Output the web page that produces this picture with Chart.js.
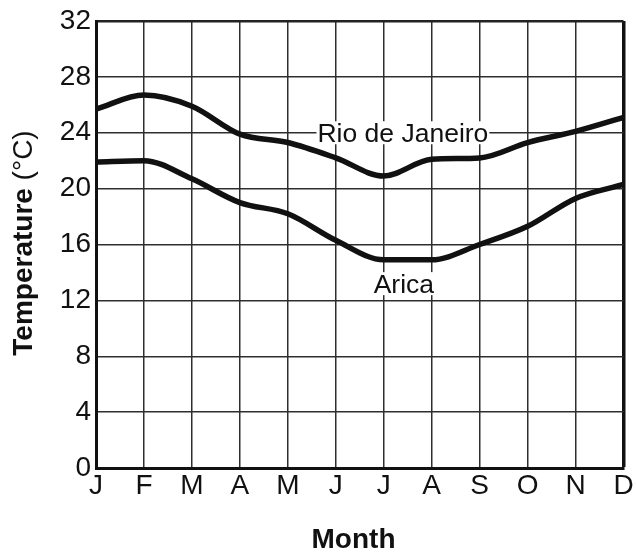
<!DOCTYPE html>
<html>
<head>
<meta charset="utf-8">
<script src="https://cdn.jsdelivr.net/npm/chart.js@4/dist/chart.umd.min.js"></script>
<style>
  html, body { margin: 0; padding: 0; background: #ffffff; }
  #wrap { width: 636px; height: 553px; }
</style>
</head>
<body>
<div id="wrap"><canvas id="c" width="636" height="553"></canvas></div>
<script>
// ---- data ----
const months = ["J", "F", "M", "A", "M", "J", "J", "A", "S", "O", "N", "D"];
const rioDeJaneiro = [25.7, 26.7, 25.9, 23.9, 23.3, 22.2, 20.9, 22.1, 22.2, 23.3, 24.1, 25.1];
const arica = [21.9, 22.0, 20.7, 19.0, 18.2, 16.3, 14.9, 14.9, 16.0, 17.3, 19.3, 20.3];
const yTicks = [0, 4, 8, 12, 16, 20, 24, 28, 32];
const seriesNames = ["Rio de Janeiro", "Arica"];
const xTitle = "Month";
const yTitleBold = "Temperature ";
const yTitleRegular = "(°C)";

const FONT = "'Liberation Sans', Arial, Helvetica, sans-serif";
const INK = "#111111";

// series labels placed in data units (category index, value)
const seriesLabelPos = [
  { text: seriesNames[0], x: 6.4, y: 24.0 },
  { text: seriesNames[1], x: 6.42, y: 13.2 }
];

const labelsPlugin = {
  id: 'seriesLabels',
  afterDatasetsDraw(chart) {
    const ctx = chart.ctx;
    const xs = chart.scales.x, ys = chart.scales.y;
    ctx.save();
    ctx.font = "26.5px " + FONT;
    ctx.textAlign = 'center';
    ctx.textBaseline = 'alphabetic';
    seriesLabelPos.forEach(l => {
      const px = xs.getPixelForValue(l.x);
      const py = ys.getPixelForValue(l.y);
      const w = ctx.measureText(l.text).width;
      const cap = 19;
      const base = py + cap / 2;
      ctx.fillStyle = '#ffffff';
      ctx.fillRect(px - w / 2 - 1, base - cap - 2, w + 2, cap + 4);
      ctx.fillStyle = INK;
      ctx.fillText(l.text, px, base);
    });
    ctx.restore();
  }
};

const titlesPlugin = {
  id: 'axisTitles',
  afterDraw(chart) {
    const ctx = chart.ctx;
    ctx.save();
    ctx.fillStyle = INK;
    // x title
    ctx.font = "bold 28px " + FONT;
    ctx.textAlign = 'center';
    ctx.textBaseline = 'alphabetic';
    ctx.fillText(xTitle, 353.5, 548);
    // y title (mixed weight)
    ctx.translate(32, 243);
    ctx.rotate(-Math.PI / 2);
    ctx.font = "bold 28px " + FONT;
    const w1 = ctx.measureText(yTitleBold).width;
    ctx.font = "28px " + FONT;
    const w2 = ctx.measureText(yTitleRegular).width;
    const start = -(w1 + w2) / 2;
    ctx.textAlign = 'left';
    ctx.font = "bold 28px " + FONT;
    ctx.fillText(yTitleBold, start, 0);
    ctx.font = "28px " + FONT;
    ctx.fillText(yTitleRegular, start + w1, 0);
    ctx.restore();
  }
};

new Chart(document.getElementById('c'), {
  type: 'line',
  data: {
    labels: months,
    datasets: [
      { label: seriesNames[0], data: rioDeJaneiro, borderColor: INK, borderWidth: 5.5,
        pointRadius: 0, cubicInterpolationMode: 'monotone', fill: false },
      { label: seriesNames[1], data: arica, borderColor: INK, borderWidth: 5.5,
        pointRadius: 0, cubicInterpolationMode: 'monotone', fill: false }
    ]
  },
  options: {
    responsive: false,
    animation: false,
    events: [],
    layout: { padding: { top: 21, right: 12.5, left: 0, bottom: 0 } },
    plugins: { legend: { display: false }, tooltip: { enabled: false }, title: { display: false } },
    scales: {
      x: {
        type: 'category',
        offset: false,
        grid: {
          offset: false,
          drawTicks: false,
          color: (c) => (c.index === months.length - 1 ? INK : '#2e2e2e'),
          lineWidth: (c) => (c.index === months.length - 1 ? 3.5 : 1.5)
        },
        border: { display: true, color: INK, width: 3 },
        ticks: { color: INK, font: { family: FONT, size: 28, lineHeight: 1.2 }, padding: 1,
                 maxRotation: 0, autoSkip: false },
        afterFit: (s) => { s.height = 85; s.paddingLeft = 0; s.paddingRight = 0; }
      },
      y: {
        min: 0, max: 32,
        afterBuildTicks: (s) => { s.ticks = yTicks.map(v => ({ value: v })); },
        grid: {
          drawTicks: false,
          color: (c) => (c.tick && c.tick.value === 32 ? '#222222' : '#2e2e2e'),
          lineWidth: (c) => (c.tick && c.tick.value === 32 ? 2.5 : 1.5)
        },
        border: { display: true, color: INK, width: 3 },
        ticks: { color: INK, font: { family: FONT, size: 28, lineHeight: 1.2 }, padding: 5 },
        afterFit: (s) => { s.width = 96; s.paddingTop = 0; s.paddingBottom = 0; }
      }
    }
  },
  plugins: [labelsPlugin, titlesPlugin]
});
</script>
</body>
</html>
